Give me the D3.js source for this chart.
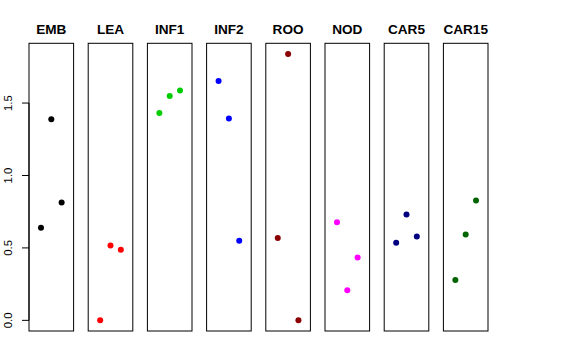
<!DOCTYPE html>
<html>
<head>
<meta charset="utf-8">
<script src="https://cdn.jsdelivr.net/npm/d3@7"></script>
<style>
  body { margin: 0; background: #fff; }
  svg { display: block; font-family: "Liberation Sans", Arial, sans-serif; }
</style>
</head>
<body>
<div id="wrapper"></div>
<script>
const width = 576, height = 360;

const groups = ["EMB", "LEA", "INF1", "INF2", "ROO", "NOD", "CAR5", "CAR15"];
const colors = ["#000000", "#FF0000", "#00CD00", "#0000FF", "#8B0000", "#FF00FF", "#000080", "#006400"];
// three values per panel, plotted at x = 1, 2, 3
const values = [
    [0.639, 1.388, 0.814],
    [0.000, 0.517, 0.487],
    [1.432, 1.549, 1.586],
    [1.652, 1.393, 0.549],
    [0.568, 1.839, 0.000],
    [0.678, 0.207, 0.434],
    [0.535, 0.731, 0.579],
    [0.278, 0.593, 0.828]
];
const yTicks = [0, 0.5, 1.0, 1.5];

const panelW = 44.6, step = 59.2, left0 = 29,
    plotTop = 43.3, plotBottom = 331;

const svg = d3.select("#wrapper")
    .append("svg")
    .attr("width", width)
    .attr("height", height);

// R-style 4% padding on both axes
const all = values.flat();
const yMin = d3.min(all), yMax = d3.max(all), yPad = (yMax - yMin) * 0.04;
const y = d3.scaleLinear()
    .domain([yMin - yPad, yMax + yPad])
    .range([plotBottom, plotTop]);

const x = d3.scaleLinear()
    .domain([0 - 0.16, 4 + 0.16])
    .range([0, panelW]);

const panelX = d3.scaleLinear().domain([0, 1]).range([left0, left0 + step]);

groups.forEach(function (g, i) {
    const p = svg.append("g")
        .attr("transform", "translate(" + panelX(i) + ",0)");

    p.append("rect")
        .attr("x", 0)
        .attr("y", plotTop)
        .attr("width", panelW)
        .attr("height", plotBottom - plotTop)
        .attr("fill", "none")
        .attr("stroke", "#000")
        .attr("stroke-width", 1);

    p.append("text")
        .attr("x", panelW / 2)
        .attr("y", 34.3)
        .attr("text-anchor", "middle")
        .attr("font-weight", "bold")
        .attr("font-size", 13.6)
        .text(g);

    p.selectAll("circle")
        .data(values[i])
        .enter().append("circle")
        .attr("cx", (d, j) => x(j + 1))
        .attr("cy", d => y(d))
        .attr("r", 3)
        .attr("fill", colors[i]);
});

// y axis on the first panel
const axis = svg.append("g")
    .attr("transform", "translate(" + left0 + ",0)");

axis.append("line")
    .attr("x1", 0).attr("x2", 0)
    .attr("y1", y(yTicks[0])).attr("y2", y(yTicks[yTicks.length - 1]))
    .attr("stroke", "#000");

axis.selectAll(".tick")
    .data(yTicks)
    .enter().append("line")
    .attr("x1", -7).attr("x2", 0)
    .attr("y1", d => y(d)).attr("y2", d => y(d))
    .attr("stroke", "#000");

axis.selectAll(".lab")
    .data(yTicks)
    .enter().append("text")
    .attr("transform", d => "translate(" + (11.7 - left0) + "," + y(d) + ") rotate(-90)")
    .attr("text-anchor", "middle")
    .attr("font-size", 11.4)
    .text(d => d3.format(".1f")(d));
</script>
</body>
</html>
